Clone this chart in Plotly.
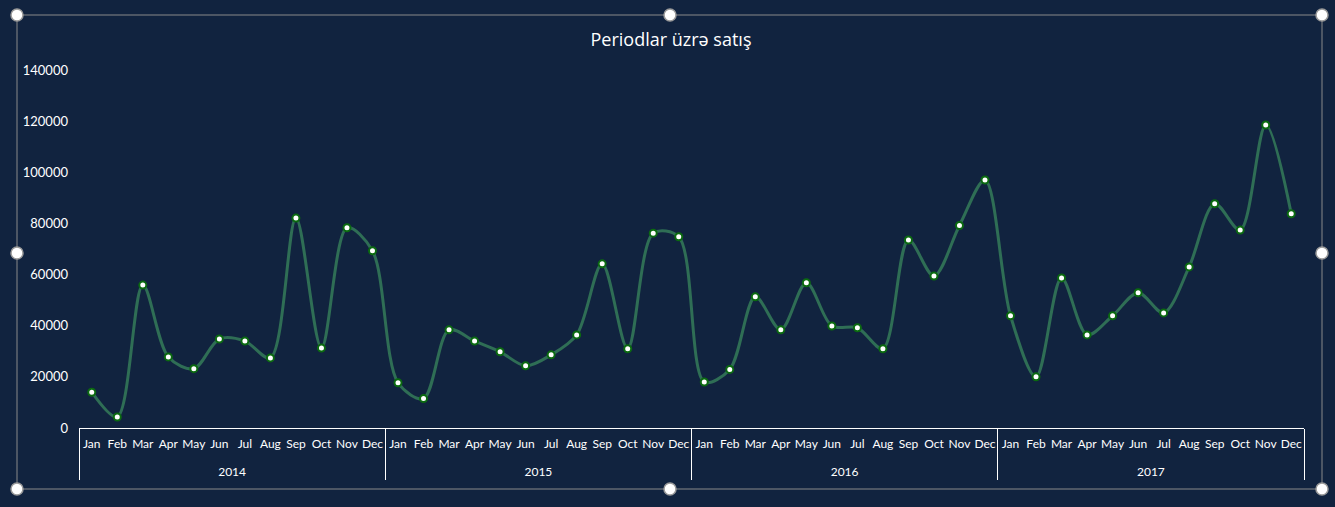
import plotly.graph_objects as go

years = ["2014", "2015", "2016", "2017"]
months = ["Jan", "Feb", "Mar", "Apr", "May", "Jun", "Jul", "Aug", "Sep", "Oct", "Nov", "Dec"]

sales_2014 = [14000, 4300, 55900, 27800, 23200, 34800, 34000, 27400, 82100, 31300, 78300, 69300]
sales_2015 = [17700, 11500, 38400, 34000, 29800, 24300, 28600, 36400, 64200, 31000, 76200, 74800]
sales_2016 = [18000, 22900, 51300, 38400, 56800, 39900, 39200, 31000, 73500, 59400, 79200, 97000]
sales_2017 = [43900, 20000, 58700, 36400, 43900, 52900, 45000, 63000, 87700, 77400, 118500, 83800]

# year labels pushed one line lower, like the Excel category axis
x_years = ["<br>" + y for y in years for _ in months]
x_months = months * len(years)
sales = sales_2014 + sales_2015 + sales_2016 + sales_2017

W, H = 1335, 507
L, R, T, B = 79, 1304, 70, 428

bg = "#11233f"

fig = go.Figure()
fig.add_trace(go.Scatter(
    x=[x_years, x_months],
    y=sales,
    mode="lines+markers",
    line=dict(shape="spline", smoothing=0.9, color="#2f6e55", width=3),
    marker=dict(size=7, color="white", line=dict(color="#0b6a10", width=2)),
    hoverinfo="y",
))


def px_x(p):
    return (p - L) / (R - L)


def px_y(p):
    return (B - p) / (B - T)


# excel-style selection frame with handles
shapes = [dict(type="rect", xref="paper", yref="paper",
               x0=px_x(17), x1=px_x(1322), y0=px_y(489), y1=px_y(15),
               line=dict(color="#8a8a8a", width=1), layer="below")]
handles = [(17, 15), (670, 15), (1322, 15), (17, 253), (1322, 253),
           (17, 489), (670, 489), (1322, 489)]
rx, ry = 6 / (R - L), 6 / (B - T)
for hx, hy in handles:
    shapes.append(dict(type="circle", xref="paper", yref="paper",
                       x0=px_x(hx) - rx, x1=px_x(hx) + rx,
                       y0=px_y(hy) - ry, y1=px_y(hy) + ry,
                       fillcolor="white", line=dict(color="#9a9a9a", width=1.5)))

n = len(sales)
fig.update_layout(
    width=W, height=H,
    paper_bgcolor=bg, plot_bgcolor=bg,
    margin=dict(l=L, r=W - R, t=T, b=H - B, autoexpand=False),
    showlegend=False,
    font=dict(family="Lato, Open Sans, sans-serif", color="white", size=12),
    title=dict(text="Periodlar üzrə satış", x=671 / W, xref="container", xanchor="center",
               y=1 - 40 / H, yanchor="middle", automargin=False,
               font=dict(size=18, color="white", family="Open Sans, sans-serif")),
    shapes=shapes,
    xaxis=dict(
        type="multicategory",
        range=[-0.5, n - 0.5], autorange=False,
        showline=True, linecolor="white", linewidth=1,
        showgrid=False, zeroline=False,
        showdividers=True, dividercolor="white", dividerwidth=1,
        tickfont=dict(size=12, color="white"),
        tickangle=0, ticks="", automargin=False,
        ticklabelstandoff=5,
    ),
    yaxis=dict(
        range=[0, 140000], tickvals=[0, 20000, 40000, 60000, 80000, 100000, 120000, 140000],
        tickformat="d", showgrid=False, zeroline=False, showline=False,
        ticklabelstandoff=10, automargin=False,
        tickfont=dict(size=13, color="white"),
    ),
)

fig.write_html(
    "out.html",
    config={"displayModeBar": False},
    post_script="document.body.style.margin='0';document.body.style.background='%s';" % bg,
)
